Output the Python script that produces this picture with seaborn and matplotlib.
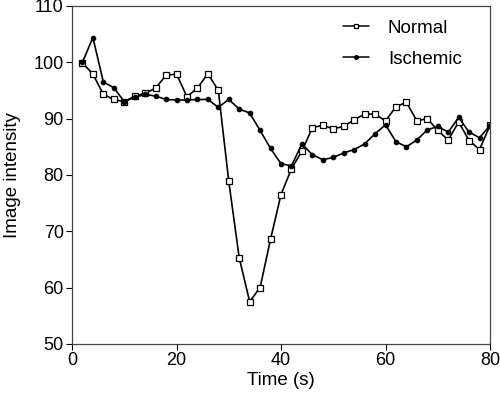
import numpy as np
import pandas as pd
import matplotlib
matplotlib.use("Agg")
import matplotlib.pyplot as plt
import seaborn as sns

# sampled every 2 s
time_s = list(range(2, 82, 2))

normal = [99.9, 97.9, 94.3, 93.4, 93.0, 94.0, 94.5, 95.4, 97.7, 97.9,
          93.9, 95.4, 98.0, 95.0, 78.9, 65.3, 57.5, 60.0, 68.6, 76.5,
          81.1, 84.2, 88.4, 88.8, 88.2, 88.6, 89.8, 90.8, 90.8, 89.6,
          92.1, 92.9, 89.6, 90.0, 87.9, 86.2, 89.4, 86.1, 84.5, 88.8]

ischemic = [100.0, 104.4, 96.5, 95.5, 93.0, 93.8, 94.3, 94.0, 93.4, 93.3,
            93.3, 93.4, 93.4, 92.0, 93.4, 91.7, 91.0, 87.9, 84.7, 82.0,
            81.6, 85.5, 83.6, 82.7, 83.1, 83.9, 84.5, 85.5, 87.3, 88.9,
            85.9, 85.0, 86.2, 88.0, 88.6, 87.6, 90.2, 87.6, 86.6, 88.8]

df = pd.DataFrame({"time": time_s, "Normal": normal, "Ischemic": ischemic})

sns.set_style("ticks")
plt.rcParams["font.family"] = ["Liberation Sans", "DejaVu Sans"]
plt.rcParams["text.color"] = "black"
plt.rcParams["axes.labelcolor"] = "black"

fig = plt.figure(figsize=(5.0, 3.98), dpi=100)
ax = fig.add_axes([0.144, 0.136, 0.836, 0.849])

sns.lineplot(data=df, x="time", y="Normal", ax=ax, color="black", lw=1.2,
             marker="s", markersize=4.3, markerfacecolor="white",
             markeredgecolor="black", markeredgewidth=0.9, label="Normal")
sns.lineplot(data=df, x="time", y="Ischemic", ax=ax, color="black", lw=1.2,
             marker="o", markersize=3.3, markerfacecolor="black",
             markeredgecolor="black", label="Ischemic")

ax.set_xlim(0, 80)
ax.set_ylim(50, 110)
ax.set_xticks([0, 20, 40, 60, 80])
ax.set_yticks([50, 60, 70, 80, 90, 100, 110])
ax.tick_params(direction="out", length=4, width=0.8, labelsize=13,
               colors="black", pad=2)
for s in ax.spines.values():
    s.set_visible(True)
    s.set_linewidth(0.9)
    s.set_color("#444444")

ax.set_xlabel("Time (s)", fontsize=13.5, labelpad=2)
ax.set_ylabel("Image intensity", fontsize=13.5, labelpad=9)

leg = ax.legend(loc="upper left", frameon=False, fontsize=13.5,
                handlelength=1.4, handletextpad=1.0, labelspacing=0.75,
                borderpad=0, borderaxespad=0,
                bbox_to_anchor=(0.648, 0.96))
for h in leg.legend_handles:
    h.set_markersize(2.8)
    h.set_linewidth(1.1)

fig.savefig("out.png", dpi=100)
